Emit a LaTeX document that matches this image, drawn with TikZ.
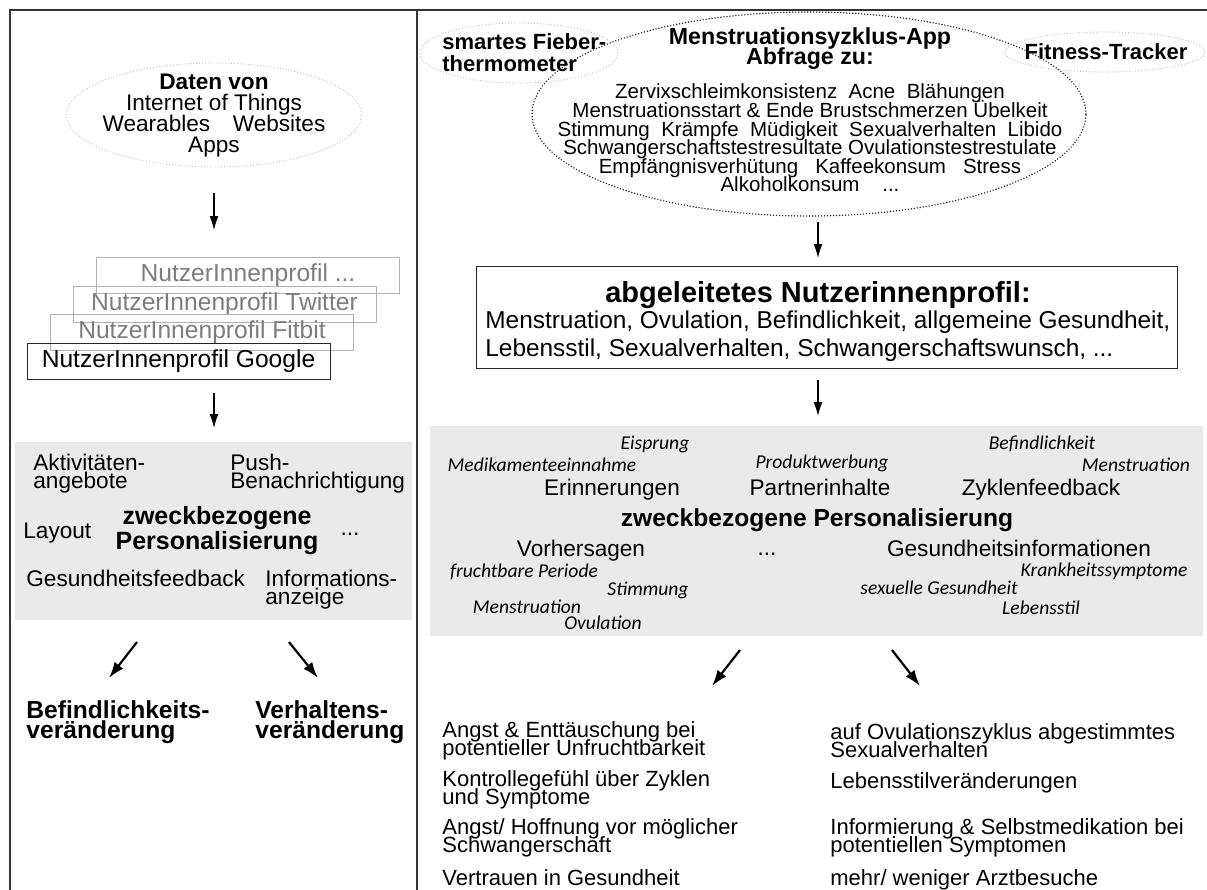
\documentclass[tikz,border=0pt]{standalone}
\usepackage{fontspec}
\setmainfont{Liberation Sans}
\newfontfamily\calfont{Carlito}
\usetikzlibrary{arrows.meta, shapes.geometric}
\newcommand{\fsz}[2]{\fontsize{#1}{#2}\selectfont\lineskiplimit=-\maxdimen}
\definecolor{panelgray}{RGB}{234,234,234}
\definecolor{inkgray}{RGB}{125,125,125}

\begin{document}
\begin{tikzpicture}[x=0.5pt,y=-0.5pt,
	frame/.style={line width=1pt, black!80},
	arr/.style={-{Latex[length=7pt,width=4.5pt]}, line width=0.6pt},
	bigarr/.style={-{Latex[length=8pt,width=5.5pt]}, line width=1.1pt},
	cloud/.style={ellipse, draw=gray!50, line width=0.45pt, densely dotted, inner sep=0pt},
	appcloud/.style={ellipse, draw=black!85, line width=0.8pt, line cap=round, dash pattern=on 0pt off 1.5pt, inner sep=0pt},
	prof/.style={draw=gray!60, text=inkgray, minimum width=151.5pt, minimum height=18pt, inner sep=0pt, font=\fsz{12.3pt}{14pt}},
	panel/.style={fill=panelgray, inner sep=0pt},
	lab/.style={inner sep=0pt, font=\fsz{11.3pt}{9pt}, text height=8.1pt, text depth=0pt},
	mlab/.style={inner sep=0pt, align=left, font=\fsz{11.3pt}{9pt}},
	tag/.style={inner sep=0pt, font=\calfont\itshape\fsz{9.8pt}{10pt}, text height=6pt, text depth=0pt},
	]

	\useasboundingbox (0,0) rectangle (1207,890);

	\draw [frame] (10,890) -- (10,10) -- (1207,10);
	\draw [frame] (417,10) -- (417,890);

	% left column
	\node[cloud, minimum width=147.5pt, minimum height=52pt] (datenrand) at (214,115) {};
	\node[inner sep=0pt, align=center, font=\fsz{11.3pt}{10.5pt}] (daten) at (214,116) {\textbf{Daten von}\\Internet of Things\\Wearables\quad Websites\\Apps};

	\coordinate (a1s) at (214,193);
	\coordinate (a1e) at (214,230);

	\node[prof] (pmore) at (248,275) {NutzerInnenprofil ...};
	\node[prof] (ptwitter) at (224.5,304) {NutzerInnenprofil Twitter};
	\node[prof] (pfitbit) at (202,332.5) {NutzerInnenprofil Fitbit};
	\node[prof, draw=black!85, text=black] (pgoogle) at (178.5,361) {NutzerInnenprofil Google};

	\coordinate (a2s) at (214,393);
	\coordinate (a2e) at (214,428);

	\node[panel, minimum width=198.5pt, minimum height=89pt] (lpanel) at (213.5,531) {};
	\node[mlab, anchor=west] (aktiv) at (33,474) {Aktivitäten-\\angebote};
	\node[mlab, anchor=west] (push) at (230,474) {Push-\\Benachrichtigung};
	\node[lab, anchor=west] (layout) at (23,530) {Layout};
	\node[inner sep=0pt, align=center, font=\bfseries\fsz{12.5pt}{12.5pt}] (lzweck) at (217,531) {zweckbezogene\\Personalisierung};
	\node[lab] (ldots) at (350,527) {...};
	\node[lab, anchor=west] (gfeed) at (26,578) {Gesundheitsfeedback};
	\node[mlab, anchor=west] (infoanz) at (265,590) {Informations-\\anzeige};

	\coordinate (a3s) at (137,642);
	\coordinate (a3e) at (109,678);
	\coordinate (a4s) at (289,642);
	\coordinate (a4e) at (318,678);

	\node[inner sep=0pt, align=left, anchor=west, font=\bfseries\fsz{12.3pt}{10pt}] (befind) at (26,722) {Befindlichkeits-\\veränderung};
	\node[inner sep=0pt, align=left, anchor=west, font=\bfseries\fsz{12.3pt}{10pt}] (verhalt) at (255,722) {Verhaltens-\\veränderung};

	% right column
	\node[cloud, minimum width=99pt, minimum height=30pt] (fieberrand) at (519,53) {};
	\node[inner sep=0pt, align=left, anchor=west, font=\bfseries\fsz{11pt}{11pt}] (fieber) at (442,53) {smartes Fieber-\\thermometer};
	\node[cloud, minimum width=100pt, minimum height=20pt] (fitrand) at (1105,52) {};
	\node[inner sep=0pt, font=\bfseries\fsz{11pt}{11pt}, text height=7.9pt, text depth=0pt] (fitness) at (1106,52) {Fitness-Tracker};
	\node[appcloud, minimum width=277pt, minimum height=102pt] (apprand) at (809,114) {};
	\node[inner sep=0pt, align=center, font=\bfseries\fsz{11.6pt}{10pt}] (apptitel) at (810,49) {Menstruationsyzklus-App\\Abfrage zu:};
	\node[inner sep=0pt, align=center, font=\fsz{10.25pt}{9.3pt}] (abfrage) at (810,138) {Zervixschleimkonsistenz\ \ Acne\ \ Blähungen\\Menstruationsstart \& Ende Brustschmerzen Übelkeit\\Stimmung\ \ Krämpfe\ \ Müdigkeit\ \ Sexualverhalten\ \ Libido\\Schwangerschaftstestresultate Ovulationstestrestulate\\Empfängnisverhütung\ \ \ Kaffeekonsum\ \ \ Stress\\Alkoholkonsum\ \ \ \ ...};

	\coordinate (a5s) at (818,222);
	\coordinate (a5e) at (818,258);

	\node[draw=black!85, line width=0.5pt, minimum width=350.5pt, minimum height=51pt, inner sep=0pt] (rprofil) at (826.5,317) {};
	\node[inner sep=0pt, font=\bfseries\fsz{14.5pt}{14pt}, text height=10.4pt, text depth=0pt] (rproftitel) at (818,292) {abgeleitetes Nutzerinnenprofil:};
	\node[inner sep=0pt, align=left, anchor=west, font=\fsz{12.2pt}{14.3pt}] (rproftext) at (485,336) {Menstruation, Ovulation, Befindlichkeit, allgemeine Gesundheit,\\Lebensstil, Sexualverhalten, Schwangerschaftswunsch, ...};

	\coordinate (a6s) at (818,380);
	\coordinate (a6e) at (818,416);

	\node[panel, minimum width=386.5pt, minimum height=105pt] (rpanel) at (816.5,531) {};
	\node[tag] (eisprung) at (655,443) {Eisprung};
	\node[tag] (medik) at (542,465) {Medikamenteeinnahme};
	\node[lab] (erinn) at (612,487) {Erinnerungen};
	\node[tag] (produkt) at (822,462) {Produktwerbung};
	\node[lab] (partner) at (820,487) {Partnerinhalte};
	\node[tag] (befindl) at (1042,443) {Befindlichkeit};
	\node[tag] (menstr) at (1136,465) {Menstruation};
	\node[lab] (zyklen) at (1041,487) {Zyklenfeedback};
	\node[inner sep=0pt, font=\bfseries\fsz{12.3pt}{12pt}, text height=8.8pt, text depth=0pt] (rzweck) at (817,518) {zweckbezogene Personalisierung};
	\node[lab] (vorher) at (581,548) {Vorhersagen};
	\node[lab] (rdots) at (767,547) {...};
	\node[lab] (gesinfo) at (1019,548) {Gesundheitsinformationen};
	\node[tag] (frucht) at (524,571) {fruchtbare Periode};
	\node[tag] (stimm) at (648,589) {Stimmung};
	\node[tag] (menstr2) at (527,607) {Menstruation};
	\node[tag] (ovul) at (603,623) {Ovulation};
	\node[tag] (krank) at (1104,570) {Krankheitssymptome};
	\node[tag] (sexges) at (939,588) {sexuelle Gesundheit};
	\node[tag] (lebstil) at (1041,608) {Lebensstil};

	\coordinate (a7s) at (740,650);
	\coordinate (a7e) at (712,686);
	\coordinate (a8s) at (892,650);
	\coordinate (a8e) at (920,686);

	\node[mlab, anchor=west, font=\fsz{11pt}{9pt}] (angst) at (442,741) {Angst \& Enttäuschung bei\\potentieller Unfruchtbarkeit};
	\node[mlab, anchor=west, font=\fsz{11pt}{9pt}] (kontr) at (442,790) {Kontrollegefühl über Zyklen\\und Symptome};
	\node[mlab, anchor=west, font=\fsz{11pt}{9pt}] (hoff) at (442,838) {Angst/ Hoffnung vor möglicher\\Schwangerschaft};
	\node[lab, anchor=west, font=\fsz{11pt}{9pt}] (vertr) at (442,877) {Vertrauen in Gesundheit};
	\node[mlab, anchor=west, font=\fsz{11pt}{9pt}] (ovzykl) at (830,741) {auf Ovulationszyklus abgestimmtes\\Sexualverhalten};
	\node[lab, anchor=west, font=\fsz{11pt}{9pt}] (lebver) at (830,780) {Lebensstilveränderungen};
	\node[mlab, anchor=west, font=\fsz{11pt}{9pt}] (selbst) at (830,838) {Informierung \& Selbstmedikation bei\\potentiellen Symptomen};
	\node[lab, anchor=west, font=\fsz{11pt}{9pt}] (arzt) at (830,877) {mehr/ weniger Arztbesuche};

	\draw [arr] (a1s) -- (a1e);
	\draw [arr] (a2s) -- (a2e);
	\draw [bigarr] (a3s) -- (a3e);
	\draw [bigarr] (a4s) -- (a4e);
	\draw [arr] (a5s) -- (a5e);
	\draw [arr] (a6s) -- (a6e);
	\draw [bigarr] (a7s) -- (a7e);
	\draw [bigarr] (a8s) -- (a8e);

\end{tikzpicture}
\end{document}
